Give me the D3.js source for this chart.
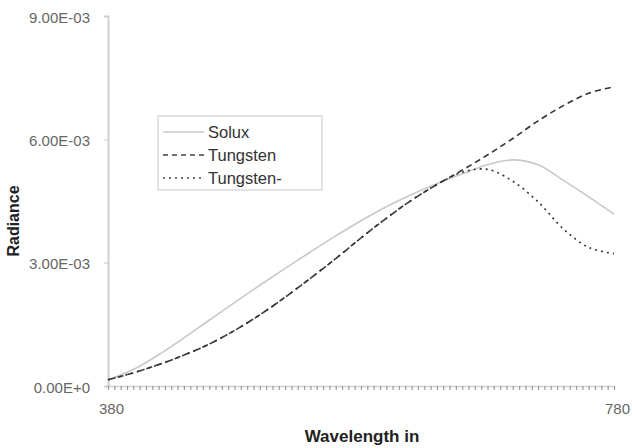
<!DOCTYPE html>
<html><head><meta charset="utf-8">
<script src="https://cdn.jsdelivr.net/npm/d3@7"></script>
<style>body{margin:0;background:#fff;} text{font-family:"Liberation Sans",Arial,sans-serif;}</style>
</head><body>
<svg id="c" width="632" height="448"></svg>
<script>
const wavelengths = [380,400,420,440,460,480,500,520,540,560,580,600,620,640,660,680,700,720,740,760,780];
const solux     = [0.15,0.40,0.76,1.17,1.60,2.03,2.45,2.86,3.26,3.65,4.02,4.36,4.66,4.92,5.16,5.38,5.50,5.38,5.00,4.60,4.18];
const tungsten  = [0.15,0.32,0.52,0.75,1.02,1.35,1.73,2.16,2.62,3.10,3.60,4.08,4.52,4.90,5.25,5.62,6.02,6.45,6.82,7.12,7.28];
const tungstenM = [0.15,0.32,0.52,0.75,1.02,1.35,1.73,2.16,2.62,3.10,3.60,4.08,4.52,4.90,5.20,5.27,4.98,4.48,3.82,3.37,3.22];
const yTicks = [0, 0.003, 0.006, 0.009];
const yTickLabels = ["0.00E+0","3.00E-03","6.00E-03","9.00E-03"];
const xTickLabels = [380, 780];
const seriesNames = ["Solux","Tungsten","Tungsten-"];

const svg = d3.select("#c");
const x = d3.scaleLinear().domain([380,780]).range([108,614]);
const y = d3.scaleLinear().domain([0,0.009]).range([386,16]);
const FONT = "Liberation Sans, Arial, sans-serif";

// y axis
const yAxis = d3.axisLeft(y).tickValues(yTicks).tickFormat((d,i)=>yTickLabels[i]).tickSize(4).tickPadding(14);
const gy = svg.append("g").attr("transform","translate(108,0)").call(yAxis);
gy.select(".domain").attr("stroke","#cfcfcf").attr("stroke-width",2);
gy.selectAll(".tick line").attr("stroke","#cfcfcf");
gy.selectAll(".tick text").attr("fill","#666").attr("font-size",15).attr("font-family",FONT).attr("dy","0.4em");

// x axis minor ticks
const minor = d3.range(380,781,5);
const gx = svg.append("g").attr("transform","translate(0,386)")
  .call(d3.axisBottom(x).tickValues(minor).tickFormat("").tickSize(4).tickSizeOuter(0));
gx.select(".domain").attr("stroke","#cfcfcf").attr("stroke-width",1.5);
gx.selectAll(".tick line").attr("stroke","#999").attr("stroke-width",1.2);
const gxl = svg.append("g").attr("transform","translate(0,386)")
  .call(d3.axisBottom(x).tickValues(xTickLabels).tickSize(0).tickPadding(17));
gxl.select(".domain").remove();
gxl.selectAll(".tick text").attr("fill","#666").attr("font-size",15).attr("font-family",FONT).attr("dx",3);

// lines
const line = vals => d3.line().x((d,i)=>x(wavelengths[i])).y(d=>y(d/1000)).curve(d3.curveCatmullRom.alpha(0.5))(vals);
svg.append("path").attr("d",line(solux)).attr("fill","none").attr("stroke","#c8c8c8").attr("stroke-width",1.6);
svg.append("path").attr("d",line(tungstenM)).attr("fill","none").attr("stroke","#333").attr("stroke-width",1.6).attr("stroke-dasharray","2,4");
svg.append("path").attr("d",line(tungsten)).attr("fill","none").attr("stroke","#333").attr("stroke-width",1.6).attr("stroke-dasharray","6,4");

// legend
const lg = svg.append("g").attr("transform","translate(158,116)");
lg.append("rect").attr("x",0).attr("y",0).attr("width",164).attr("height",74).attr("fill","#fff").attr("stroke","#cfcfcf").attr("stroke-width",1.2);
const styles = [{c:"#c8c8c8",d:null},{c:"#444",d:"5,4"},{c:"#444",d:"2,4"}];
seriesNames.forEach((n,i)=>{
  const yy = 16 + i*23;
  const l = lg.append("line").attr("x1",5).attr("x2",46).attr("y1",yy).attr("y2",yy).attr("stroke",styles[i].c).attr("stroke-width",1.6);
  if(styles[i].d) l.attr("stroke-dasharray",styles[i].d);
  lg.append("text").attr("x",50).attr("y",yy+5.5).attr("font-size",16.5).attr("fill","#333").attr("font-family",FONT).text(n);
});

// axis titles
svg.append("text").attr("x",362).attr("y",442).attr("text-anchor","middle").attr("font-size",17).attr("font-weight","bold").attr("fill","#222").attr("font-family",FONT).text("Wavelength in");
svg.append("text").attr("transform","translate(19,221) rotate(-90)").attr("text-anchor","middle").attr("font-size",16).attr("font-weight","bold").attr("fill","#222").attr("font-family",FONT).text("Radiance");
</script>
</body></html>
